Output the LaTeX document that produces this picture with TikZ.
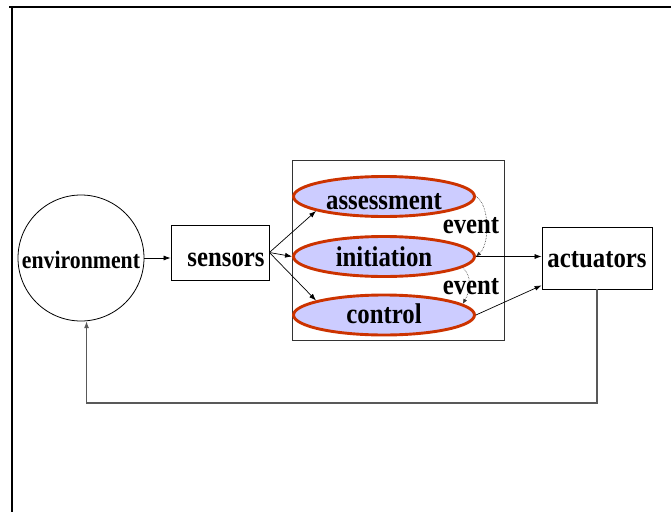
\documentclass[tikz,border=0pt]{standalone}
\usepackage{fontspec}
\setmainfont{Liberation Serif}
\usetikzlibrary{shapes.geometric,arrows.meta,calc}
\definecolor{ellfill}{HTML}{CCCCFF}
\definecolor{elldraw}{HTML}{CC3300}
\newcommand{\sqz}[1]{\scalebox{0.87}[1]{#1}}
\newcommand{\lowr}[2]{\raisebox{-#1}[\height][\depth]{#2}}
\begin{document}
\begin{tikzpicture}[x=1pt,y=-1pt,
  big/.style={font=\fontsize{28.5}{30}\selectfont\bfseries},
  phase/.style={ellipse,draw=elldraw,fill=ellfill,line width=2.9pt,minimum width=181pt,minimum height=40pt,inner sep=0pt,big},
  boxn/.style={rectangle,draw=black,line width=0.8pt,inner sep=0pt,big},
  conn/.style={line width=0.7pt,-{Latex[length=7pt,width=5pt]}},
  evarrow/.style={densely dotted,line width=0.6pt,draw=black!80,-{Latex[length=5pt,width=4pt]}},
  fbline/.style={line width=1.1pt,draw=black!65}]
\useasboundingbox (0,0) rectangle (671,511);
% outer frame
\draw[line width=2pt] (9,7) -- (672,7);
\draw[line width=2pt] (12,7) -- (12,512);
% nodes
\node[circle,draw=black,line width=0.8pt,minimum size=126pt,inner sep=0pt,font=\fontsize{25}{27}\selectfont\bfseries] (env) at (81,258) {\lowr{2pt}{\sqz{environment}}};
\node[boxn,minimum width=98pt,minimum height=55pt] (sens) at (220,252.5) {\hspace*{12pt}\lowr{7pt}{\sqz{sensors}}};
\node[rectangle,draw=black!80,line width=0.8pt,minimum width=212pt,minimum height=180pt] (box) at (398,250) {};
\node[phase] (ass) at (384,196.5) {\lowr{5pt}{\sqz{assessment}}};
\node[phase] (ini) at (384,256.5) {\sqz{initiation}};
\node[phase] (ctl) at (384,315) {\lowr{-1.5pt}{\sqz{control}}};
\node[boxn,minimum width=110pt,minimum height=62pt] (act) at (597,258) {\lowr{2pt}{\sqz{actuators}}};
% event curves
\draw[evarrow] (ass.east) .. controls +(14,8) and +(14,-12) .. (ini.east);
\draw[evarrow] (ini.-8) .. controls +(9,8) and +(8,-14) .. (ctl.8);
\node[big,inner sep=0pt] (ev1) at (471,226) {\sqz{event}};
\node[big,inner sep=0pt] (ev2) at (471,287) {\sqz{event}};
% connectors
\draw[conn] (env.east) -- (env.east -| sens.west);
\draw[conn] (sens.east) -- (ass.192);
\draw[conn] (sens.east) -- (ini.west);
\draw[conn] (sens.east) -- (ctl.168);
\draw[conn] (ini.east) -- (ini.east -| act.west);
\draw[conn] (ctl.east) -- ($(act.south west)+(0,-4)$);
\coordinate (fb) at (0,403);
\draw[fbline,-{Latex[length=7pt,width=5pt]}] (act.south) -- (act.south |- fb) -| (env.-85);
\end{tikzpicture}
\end{document}
